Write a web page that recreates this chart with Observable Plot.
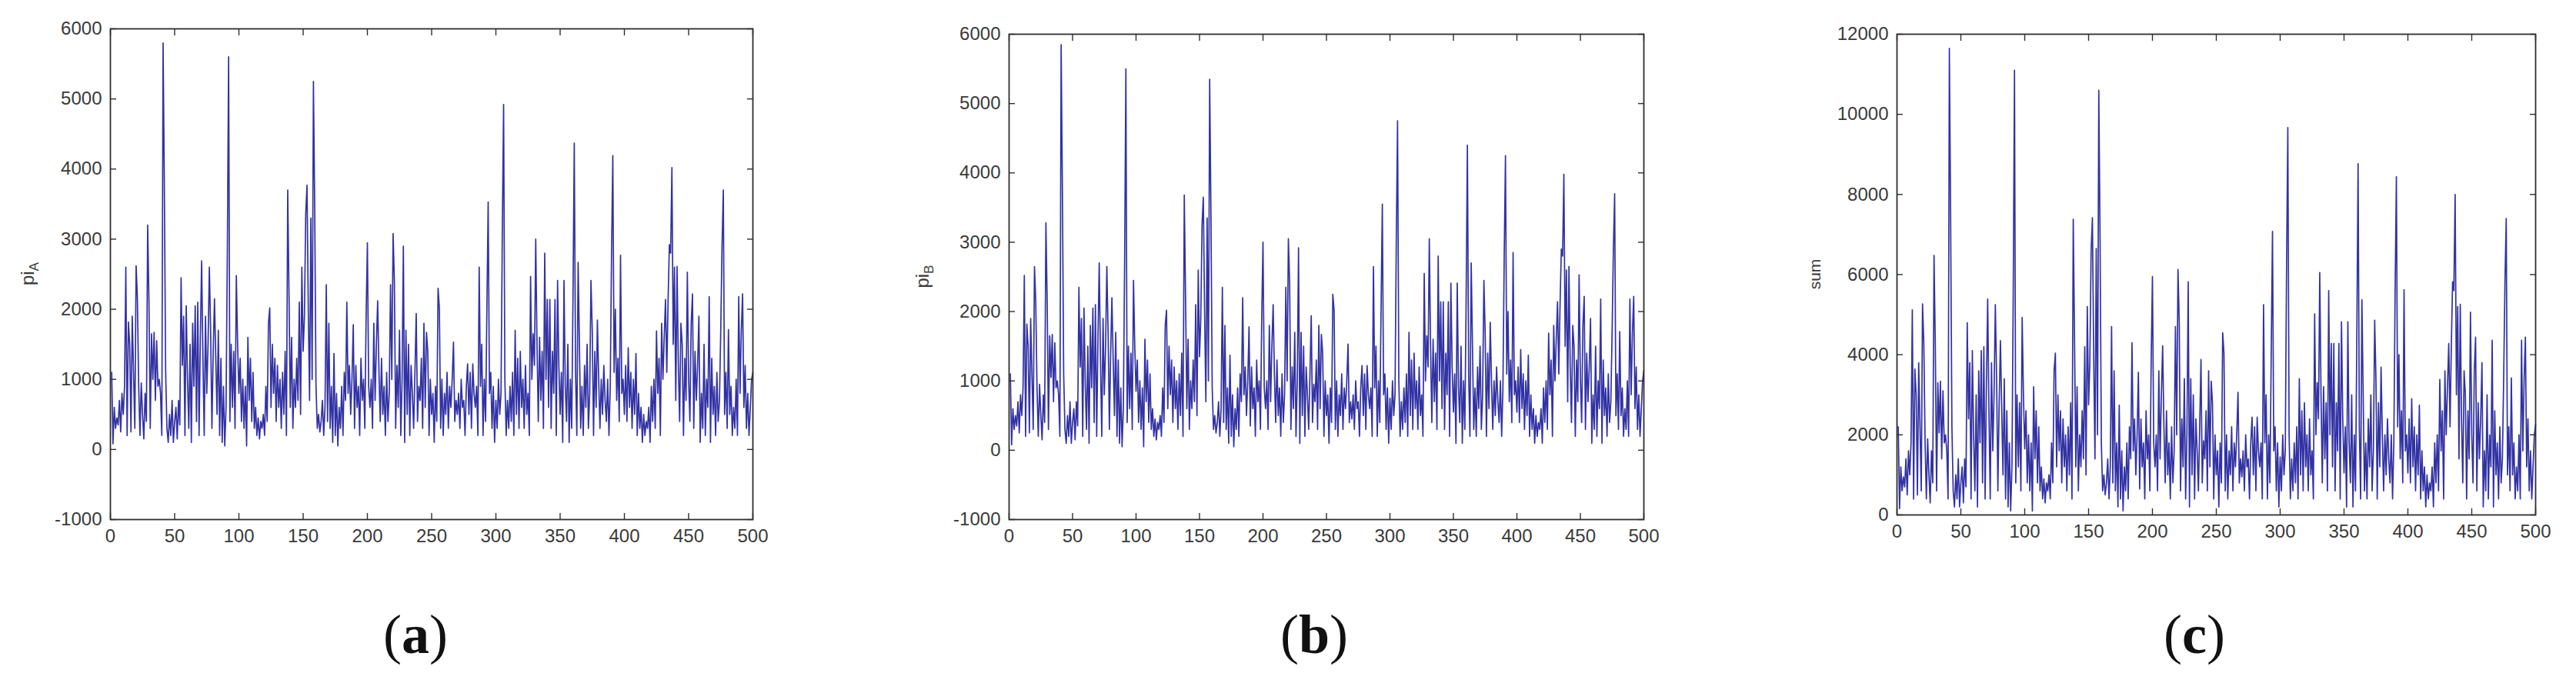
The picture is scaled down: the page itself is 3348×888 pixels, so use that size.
<!DOCTYPE html>
<html>
<head>
<meta charset="utf-8">
<script src="https://cdn.jsdelivr.net/npm/d3@7"></script>
<script src="https://cdn.jsdelivr.net/npm/@observablehq/plot@0.6"></script>
<style>
html, body { margin: 0; padding: 0; background: #fff; }
#root { position: relative; width: 3348px; height: 888px; overflow: hidden; background: #fff; }
.panel { position: absolute; top: 0; }
.cap { position: absolute; font-family: "Liberation Serif", "DejaVu Serif", serif; font-size: 72px; color: #111;
       transform: translate(-50%, -50%); line-height: 1; white-space: nowrap; }
.cap b { font-weight: 700; }
</style>
</head>
<body>
<div id="root"></div>
<script>
// ---- data ----
const xTicks = [0, 50, 100, 150, 200, 250, 300, 350, 400, 450, 500];
const yTicksAB = [-1000, 0, 1000, 2000, 3000, 4000, 5000, 6000];
const yTicksSum = [0, 2000, 4000, 6000, 8000, 10000, 12000];
const panelLabels = ["a", "b", "c"];

const piA = [
  1100, 80, 600, 300, 450, 350, 700, 250, 800, 500,
  900, 2600, 200, 1820, 1500, 250, 1900, 1100, 300, 2620,
  2150, 900, 200, 950, 500, 150, 800, 400, 3200, 2100,
  300, 1650, 1000, 1670, 700, 1550, 900, 1000, 800, 200,
  5800, 3700, 1100, 300, 100, 500, 200, 700, 100, 400,
  600, 150, 700, 350, 2450, 1200, 1900, 200, 2050, 1000,
  300, 1500, 100, 1800, 900, 2050, 400, 2100, 200, 1600,
  2690, 1300, 200, 1900, 800, 1500, 2600, 1700, 300, 1400,
  2150, 1300, 500, 1700, 200, 1300, 100, 900, 50, 600,
  2800, 5600, 400, 1500, 600, 1400, 300, 2480, 1500, 800,
  1300, 400, 1000, 300, 900, 50, 1600, 700, 1300, 400,
  1100, 300, 600, 200, 450, 150, 400, 300, 500, 200,
  900, 400, 1800, 2020, 600, 1500, 800, 1300, 400, 1200,
  600, 1000, 300, 1100, 500, 1400, 200, 3700, 2200, 600,
  1600, 300, 1000, 600, 1300, 700, 2100, 500, 2600, 1400,
  1900, 3350, 3770, 2000, 700, 3300, 1000, 5250, 3450, 900,
  300, 500, 250, 400, 700, 200, 600, 2350, 400, 1800,
  300, 900, 100, 1370, 200, 800, 50, 600, 300, 900,
  200, 1100, 700, 2100, 800, 1200, 500, 1000, 1780, 300,
  1200, 600, 900, 200, 1300, 700, 1000, 300, 1900, 2950,
  900, 600, 1000, 300, 1800, 700, 1500, 2120, 1100, 400,
  1300, 500, 900, 200, 1100, 400, 800, 2350, 1000, 3080,
  2400, 300, 1200, 600, 1700, 200, 1000, 2900, 100, 1700,
  500, 1500, 200, 1200, 800, 300, 1100, 1940, 400, 900,
  700, 1300, 300, 1800, 600, 1670, 1400, 200, 1000, 500,
  800, 100, 900, 400, 2300, 2020, 300, 1000, 200, 800,
  500, 1100, 300, 900, 600, 1000, 1530, 400, 700, 500,
  800, 300, 1000, 600, 700, 200, 900, 1220, 500, 1100,
  300, 1220, 800, 600, 900, 200, 2600, 900, 1500, 200,
  1000, 400, 2020, 3530, 800, 1100, 300, 900, 100, 700,
  300, 1000, 500, 800, 3100, 4920, 1000, 200, 700, 300,
  900, 400, 1100, 200, 1700, 500, 1300, 300, 1400, 600,
  1000, 300, 1200, 500, 800, 200, 2470, 1000, 1650, 1200,
  3000, 1500, 400, 1600, 700, 1400, 300, 2800, 1000, 2140,
  600, 2140, 300, 1400, 800, 2140, 200, 2410, 1200, 500,
  1100, 100, 2410, 900, 400, 1500, 100, 1000, 300, 2160,
  4370, 1100, 200, 2670, 1500, 300, 900, 200, 1200, 600,
  1500, 300, 800, 2410, 1700, 200, 1400, 600, 1845, 1000,
  300, 1000, 500, 1200, 700, 400, 1000, 200, 900, 2770,
  4190, 1100, 2000, 700, 1300, 400, 2770, 800, 1000, 500,
  1200, 400, 1450, 600, 1100, 300, 1000, 500, 1370, 200,
  800, 300, 600, 100, 500, 200, 400, 300, 600, 100,
  900, 400, 1000, 300, 1690, 800, 1300, 200, 1800, 1000,
  1600, 2140, 1100, 2100, 2920, 2800, 4020, 1500, 2600, 700,
  2610, 1200, 400, 1800, 1500, 200, 1300, 700, 2530, 1000,
  400, 1800, 2220, 300, 1400, 700, 1200, 1900, 100, 800,
  300, 1500, 200, 1000, 600, 2180, 100, 1300, 500, 900,
  200, 1100, 400, 700, 1700, 2900, 3700, 500, 1100, 300,
  1710, 500, 900, 200, 600, 300, 1000, 200, 2180, 800,
  1690, 2220, 600, 1200, 300, 800, 200, 600, 1000, 1100
];

const piB = [
  1100, 80, 600, 300, 500, 350, 700, 250, 800, 500,
  900, 2520, 200, 1820, 1500, 250, 1900, 1100, 300, 2650,
  2150, 900, 200, 950, 500, 150, 800, 400, 3280, 2150,
  300, 1650, 1050, 1670, 700, 1550, 900, 1000, 800, 200,
  5850, 3720, 1100, 300, 100, 500, 200, 700, 100, 400,
  600, 150, 700, 350, 2350, 1200, 1900, 200, 2050, 950,
  300, 1500, 100, 1800, 900, 2050, 400, 2100, 200, 1600,
  2700, 1300, 200, 1900, 800, 1500, 2650, 1700, 300, 1400,
  2200, 1300, 500, 1700, 200, 1300, 100, 900, 50, 600,
  2700, 5500, 400, 1500, 600, 1400, 300, 2450, 1500, 850,
  1300, 400, 1000, 300, 900, 50, 1600, 700, 1300, 400,
  1100, 300, 600, 200, 450, 150, 400, 300, 500, 200,
  900, 400, 1800, 2020, 600, 1500, 800, 1300, 400, 1200,
  600, 1000, 300, 1100, 500, 1400, 200, 3680, 2200, 600,
  1600, 300, 1000, 600, 1300, 700, 2100, 500, 2600, 1350,
  1900, 3250, 3650, 2000, 700, 3350, 1000, 5350, 3400, 900,
  300, 500, 250, 400, 700, 200, 600, 2350, 400, 1800,
  300, 900, 100, 1370, 200, 800, 50, 600, 300, 900,
  200, 1100, 700, 2200, 800, 1200, 500, 1000, 1780, 350,
  1200, 600, 900, 200, 1300, 700, 1000, 300, 1900, 3000,
  900, 600, 1000, 300, 1800, 700, 1500, 2100, 1100, 400,
  1300, 500, 900, 200, 1100, 400, 800, 2350, 1000, 3050,
  2400, 300, 1200, 600, 1700, 200, 1000, 2920, 100, 1700,
  500, 1500, 200, 1200, 800, 300, 1100, 1940, 400, 950,
  700, 1300, 300, 1800, 600, 1670, 1400, 200, 1000, 500,
  800, 100, 900, 400, 2250, 2020, 300, 1000, 200, 800,
  500, 1100, 300, 900, 600, 1000, 1530, 400, 700, 450,
  800, 300, 1000, 600, 700, 200, 900, 1220, 500, 1100,
  300, 1220, 800, 600, 900, 200, 2650, 900, 1500, 200,
  1000, 400, 2020, 3550, 800, 1100, 300, 900, 100, 750,
  300, 1000, 500, 800, 3050, 4750, 1000, 200, 700, 300,
  900, 400, 1100, 200, 1700, 500, 1300, 300, 1400, 600,
  1000, 300, 1200, 500, 800, 200, 2550, 1000, 1650, 1200,
  3050, 1500, 400, 1600, 700, 1400, 300, 2800, 1000, 2140,
  600, 2140, 300, 1400, 800, 2140, 200, 2410, 1200, 550,
  1100, 100, 2410, 900, 400, 1500, 100, 1000, 300, 2160,
  4400, 1100, 200, 2700, 1500, 300, 900, 200, 1200, 600,
  1500, 300, 800, 2450, 1700, 200, 1400, 600, 1845, 1000,
  300, 1000, 500, 1200, 700, 400, 1000, 200, 900, 2800,
  4250, 1100, 2000, 700, 1300, 400, 2850, 800, 1000, 550,
  1200, 400, 1450, 600, 1100, 300, 1000, 500, 1370, 200,
  800, 300, 600, 100, 500, 200, 400, 300, 600, 100,
  900, 400, 1000, 300, 1690, 800, 1300, 200, 1800, 1000,
  1600, 2140, 1100, 2100, 2900, 2800, 3980, 1500, 2600, 700,
  2650, 1200, 400, 1800, 1500, 200, 1300, 700, 2530, 1050,
  400, 1800, 2220, 300, 1400, 700, 1200, 1900, 100, 800,
  300, 1500, 200, 1000, 600, 2180, 100, 1300, 500, 900,
  200, 1100, 400, 700, 1700, 2900, 3700, 500, 1100, 300,
  1710, 500, 900, 200, 600, 300, 1000, 200, 2180, 800,
  1690, 2220, 600, 1200, 300, 800, 200, 600, 1000, 1150
];

const sumAB = [
  2200, 160, 1200, 600, 950, 700, 1400, 500, 1600, 1000,
  1800, 5120, 400, 3640, 3000, 500, 3800, 2200, 600, 5270,
  4300, 1800, 400, 1900, 1000, 300, 1600, 800, 6480, 4250,
  600, 3300, 2050, 3340, 1400, 3100, 1800, 2000, 1600, 400,
  11650, 7420, 2200, 600, 200, 1000, 400, 1400, 200, 800,
  1200, 300, 1400, 700, 4800, 2400, 3800, 400, 4100, 1950,
  600, 3000, 200, 3600, 1800, 4100, 800, 4200, 400, 3200,
  5390, 2600, 400, 3800, 1600, 3000, 5250, 3400, 600, 2800,
  4350, 2600, 1000, 3400, 400, 2600, 200, 1800, 100, 1200,
  5500, 11100, 800, 3000, 1200, 2800, 600, 4930, 3000, 1650,
  2600, 800, 2000, 600, 1800, 100, 3200, 1400, 2600, 800,
  2200, 600, 1200, 400, 900, 300, 800, 600, 1000, 400,
  1800, 800, 3600, 4040, 1200, 3000, 1600, 2600, 800, 2400,
  1200, 2000, 600, 2200, 1000, 2800, 400, 7380, 4400, 1200,
  3200, 600, 2000, 1200, 2600, 1400, 4200, 1000, 5200, 2750,
  3800, 6600, 7420, 4000, 1400, 6650, 2000, 10600, 6850, 1800,
  600, 1000, 500, 800, 1400, 400, 1200, 4700, 800, 3600,
  600, 1800, 200, 2740, 400, 1600, 100, 1200, 600, 1800,
  400, 2200, 1400, 4300, 1600, 2400, 1000, 2000, 3560, 650,
  2400, 1200, 1800, 400, 2600, 1400, 2000, 600, 3800, 5950,
  1800, 1200, 2000, 600, 3600, 1400, 3000, 4220, 2200, 800,
  2600, 1000, 1800, 400, 2200, 800, 1600, 4700, 2000, 6130,
  4800, 600, 2400, 1200, 3400, 400, 2000, 5820, 200, 3400,
  1000, 3000, 400, 2400, 1600, 600, 2200, 3880, 800, 1850,
  1400, 2600, 600, 3600, 1200, 3340, 2800, 400, 2000, 1000,
  1600, 200, 1800, 800, 4550, 4040, 600, 2000, 400, 1600,
  1000, 2200, 600, 1800, 1200, 2000, 3060, 800, 1400, 950,
  1600, 600, 2000, 1200, 1400, 400, 1800, 2440, 1000, 2200,
  600, 2440, 1600, 1200, 1800, 400, 5250, 1800, 3000, 400,
  2000, 800, 4040, 7080, 1600, 2200, 600, 1800, 200, 1450,
  600, 2000, 1000, 1600, 6150, 9670, 2000, 400, 1400, 600,
  1800, 800, 2200, 400, 3400, 1000, 2600, 600, 2800, 1200,
  2000, 600, 2400, 1000, 1600, 400, 5020, 2000, 3300, 2400,
  6050, 3000, 800, 3200, 1400, 2800, 600, 5600, 2000, 4280,
  1200, 4280, 600, 2800, 1600, 4280, 400, 4820, 2400, 1050,
  2200, 200, 4820, 1800, 800, 3000, 200, 2000, 600, 4320,
  8770, 2200, 400, 5370, 3000, 600, 1800, 400, 2400, 1200,
  3000, 600, 1600, 4860, 3400, 400, 2800, 1200, 3690, 2000,
  600, 2000, 1000, 2400, 1400, 800, 2000, 400, 1800, 5570,
  8440, 2200, 4000, 1400, 2600, 800, 5620, 1600, 2000, 1050,
  2400, 800, 2900, 1200, 2200, 600, 2000, 1000, 2740, 400,
  1600, 600, 1200, 200, 1000, 400, 800, 600, 1200, 200,
  1800, 800, 2000, 600, 3380, 1600, 2600, 400, 3600, 2000,
  3200, 4280, 2200, 4200, 5820, 5600, 8000, 3000, 5200, 1400,
  5260, 2400, 800, 3600, 3000, 400, 2600, 1400, 5060, 2050,
  800, 3600, 4440, 600, 2800, 1400, 2400, 3800, 200, 1600,
  600, 3000, 400, 2000, 1200, 4360, 200, 2600, 1000, 1800,
  400, 2200, 800, 1400, 3400, 5800, 7400, 1000, 2200, 600,
  3420, 1000, 1800, 400, 1200, 600, 2000, 400, 4360, 1600,
  3380, 4440, 1200, 2400, 600, 1600, 400, 1200, 2000, 2250
];

const sampleIndex = piA.map((_, i) => i + 1);

// ---- styling / layout ----
const lineColor = "#1c1c9a";
const axisColor = "#2e2e2e";
const textColor = "#3a3a3a";

function makePanel(cfg) {
  const data = cfg.values.map((v, i) => ({t: sampleIndex[i], v}));
  const noText = () => "";
  const chart = Plot.plot({
    width: cfg.width,
    height: cfg.height,
    marginTop: cfg.mTop,
    marginRight: cfg.mRight,
    marginBottom: cfg.mBottom,
    marginLeft: cfg.mLeft,
    style: {fontFamily: "'Liberation Sans', Arial, sans-serif", fontSize: "24px", color: textColor, background: "#fff", overflow: "visible"},
    x: {domain: [0, 500]},
    y: {domain: cfg.yDomain},
    marks: [
      Plot.line(data, {x: "t", y: "v", stroke: lineColor, strokeWidth: 1.7, strokeOpacity: 0.9}),
      Plot.frame({stroke: axisColor, strokeWidth: 1.8}),
      Plot.axisX({anchor: "bottom", ticks: xTicks, tickSize: -8, tickFormat: noText, label: null, stroke: axisColor, strokeWidth: 1.4}),
      Plot.axisX({anchor: "top", ticks: xTicks, tickSize: -8, tickFormat: noText, label: null, stroke: axisColor, strokeWidth: 1.4}),
      Plot.axisX({anchor: "bottom", ticks: xTicks, tickSize: 0, tickPadding: 12, tickFormat: d => String(d), label: null, fill: textColor}),
      Plot.axisY({anchor: "left", ticks: cfg.yTicks, tickSize: -8, tickFormat: noText, label: null, stroke: axisColor, strokeWidth: 1.4}),
      Plot.axisY({anchor: "right", ticks: cfg.yTicks, tickSize: -8, tickFormat: noText, label: null, stroke: axisColor, strokeWidth: 1.4}),
      Plot.axisY({anchor: "left", ticks: cfg.yTicks, tickSize: 0, tickPadding: 11, tickFormat: d => String(d), label: null, fill: textColor})
    ]
  });
  // y-axis title with subscript
  const svg = d3.select(chart);
  const cy = (cfg.mTop + cfg.height - cfg.mBottom) / 2;
  const t = svg.append("text")
    .attr("transform", `translate(${cfg.labelX},${cy}) rotate(-90)`)
    .attr("text-anchor", "middle")
    .attr("font-family", "'Liberation Sans', Arial, sans-serif")
    .attr("font-size", cfg.labelSize)
    .attr("fill", textColor);
  t.append("tspan").text(cfg.label);
  if (cfg.sub) t.append("tspan").attr("font-size", cfg.labelSize * 0.72).attr("dy", 6).text(cfg.sub);

  const div = document.createElement("div");
  div.className = "panel";
  div.style.left = cfg.left + "px";
  div.appendChild(chart);
  document.getElementById("root").appendChild(div);
}

makePanel({values: piA, left: 0, width: 1000, height: 720, mTop: 37, mRight: 22, mBottom: 45, mLeft: 143,
  yDomain: [-1000, 6000], yTicks: yTicksAB, label: "pi", sub: "A", labelX: 44, labelSize: 24});
makePanel({values: piB, left: 1160, width: 1000, height: 720, mTop: 44, mRight: 24, mBottom: 45, mLeft: 151,
  yDomain: [-1000, 6000], yTicks: yTicksAB, label: "pi", sub: "B", labelX: 47, labelSize: 24});
makePanel({values: sumAB, left: 2310, width: 1038, height: 720, mTop: 44, mRight: 53, mBottom: 51, mLeft: 155,
  yDomain: [0, 12000], yTicks: yTicksSum, label: "sum", sub: null, labelX: 56, labelSize: 21});

// panel captions
const capX = [540, 1708, 2852];
panelLabels.forEach((l, i) => {
  const c = document.createElement("div");
  c.className = "cap";
  c.style.left = capX[i] + "px";
  c.style.top = "825px";
  c.innerHTML = "(<b>" + l + "</b>)";
  document.getElementById("root").appendChild(c);
});
</script>
</body>
</html>
